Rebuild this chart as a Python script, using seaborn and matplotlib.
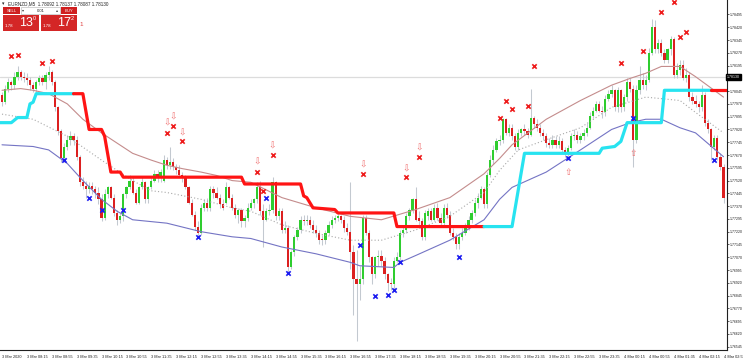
"""EURNZD M5 chart with envelope, trailing stop line and signal marks."""

import numpy as np
import pandas as pd
import matplotlib
matplotlib.use("Agg")
import matplotlib.pyplot as plt
from matplotlib.patches import Rectangle
import seaborn as sns

# ---- candles (M5, 3 Mar 2020 07:35 -> 4 Mar 2020 02:55) ----
open_ = [1.7802, 1.7798, 1.7806, 1.7810, 1.7808, 1.7813, 1.7816, 1.7813, 1.7812, 1.7811,
         1.7808, 1.7806, 1.7810, 1.7812, 1.7810, 1.7814, 1.7816, 1.7810, 1.7795, 1.7781,
         1.7765, 1.7772, 1.7776, 1.7778, 1.7776, 1.7766, 1.7751, 1.7749, 1.7747, 1.7749,
         1.7747, 1.7745, 1.7741, 1.7730, 1.7744, 1.7748, 1.7742, 1.7733, 1.7729, 1.7731,
         1.7744, 1.7748, 1.7752, 1.7745, 1.7739, 1.7748, 1.7751, 1.7741, 1.7748, 1.7752,
         1.7756, 1.7754, 1.7752, 1.7764, 1.7761, 1.7763, 1.7760, 1.7758, 1.7755, 1.7754,
         1.7748, 1.7739, 1.7732, 1.7725, 1.7721, 1.7736, 1.7739, 1.7736, 1.7747, 1.7745,
         1.7742, 1.7738, 1.7739, 1.7748, 1.7742, 1.7736, 1.7732, 1.7735, 1.7728, 1.7730,
         1.7736, 1.7739, 1.7741, 1.7748, 1.7734, 1.7729, 1.7734, 1.7735, 1.7751, 1.7731,
         1.7734, 1.7723, 1.7724, 1.7701, 1.7710, 1.7719, 1.7723, 1.7729, 1.7728, 1.7729,
         1.7726, 1.7723, 1.7721, 1.7718, 1.7717, 1.7721, 1.7726, 1.7729, 1.7730, 1.7731,
         1.7729, 1.7724, 1.7722, 1.7710, 1.7694, 1.7691, 1.7694, 1.7730, 1.7721, 1.7707,
         1.7697, 1.7707, 1.7708, 1.7705, 1.7697, 1.7692, 1.7691, 1.7705, 1.7707, 1.7721,
         1.7723, 1.7731, 1.7735, 1.7741, 1.7730, 1.7728, 1.7719, 1.7731, 1.7734, 1.7729,
         1.7736, 1.7730, 1.7727, 1.7736, 1.7732, 1.7721, 1.7719, 1.7715, 1.7719, 1.7721,
         1.7725, 1.7729, 1.7733, 1.7739, 1.7742, 1.7747, 1.7738, 1.7755, 1.7764, 1.7770,
         1.7775, 1.7776, 1.7788, 1.7780, 1.7783, 1.7778, 1.7772, 1.7780, 1.7782, 1.7781,
         1.7779, 1.7789, 1.7785, 1.7783, 1.7780, 1.7778, 1.7774, 1.7773, 1.7776, 1.7773,
         1.7775, 1.7770, 1.7769, 1.7771, 1.7778, 1.7779, 1.7776, 1.7778, 1.7780, 1.7783,
         1.7790, 1.7793, 1.7797, 1.7793, 1.7792, 1.7800, 1.7803, 1.7805, 1.7795, 1.7805,
         1.7795, 1.7801, 1.7810, 1.7806, 1.7776, 1.7805, 1.7811, 1.7808, 1.7811, 1.7827,
         1.7842, 1.7829, 1.7833, 1.7827, 1.7823, 1.7829, 1.7835, 1.7814, 1.7817, 1.7820,
         1.7812, 1.7814, 1.7801, 1.7799, 1.7797, 1.7795, 1.7802, 1.7786, 1.7782, 1.7772,
         1.7777, 1.7766, 1.7760]
high = [1.7804, 1.7808, 1.7812, 1.7811, 1.7816, 1.7819, 1.7817, 1.7816, 1.7815, 1.7813,
        1.7810, 1.7811, 1.7814, 1.7814, 1.7816, 1.7819, 1.7817, 1.7811, 1.7796, 1.7782,
        1.7774, 1.7779, 1.7781, 1.7780, 1.7778, 1.7767, 1.7754, 1.7752, 1.7751, 1.7751,
        1.7749, 1.7748, 1.7744, 1.7747, 1.7749, 1.7749, 1.7744, 1.7735, 1.7733, 1.7745,
        1.7749, 1.7755, 1.7754, 1.7747, 1.7749, 1.7754, 1.7752, 1.7749, 1.7754, 1.7758,
        1.7758, 1.7759, 1.7767, 1.7766, 1.7772, 1.7765, 1.7762, 1.7761, 1.7757, 1.7755,
        1.7749, 1.7741, 1.7734, 1.7728, 1.7738, 1.7741, 1.7742, 1.7749, 1.7749, 1.7748,
        1.7744, 1.7741, 1.7751, 1.7749, 1.7744, 1.7738, 1.7736, 1.7736, 1.7732, 1.7739,
        1.7741, 1.7742, 1.7751, 1.7752, 1.7738, 1.7736, 1.7738, 1.7754, 1.7752, 1.7736,
        1.7736, 1.7728, 1.7726, 1.7711, 1.7720, 1.7725, 1.7731, 1.7732, 1.7732, 1.7731,
        1.7729, 1.7726, 1.7723, 1.7720, 1.7723, 1.7728, 1.7731, 1.7732, 1.7733, 1.7732,
        1.7731, 1.7727, 1.7751, 1.7714, 1.7711, 1.7702, 1.7732, 1.7732, 1.7723, 1.7708,
        1.7708, 1.7711, 1.7711, 1.7707, 1.7698, 1.7695, 1.7707, 1.7710, 1.7723, 1.7726,
        1.7733, 1.7736, 1.7742, 1.7748, 1.7734, 1.7730, 1.7735, 1.7736, 1.7736, 1.7738,
        1.7739, 1.7733, 1.7738, 1.7739, 1.7734, 1.7724, 1.7721, 1.7721, 1.7724, 1.7727,
        1.7731, 1.7735, 1.7741, 1.7745, 1.7749, 1.7748, 1.7757, 1.7767, 1.7773, 1.7777,
        1.7779, 1.7789, 1.7789, 1.7785, 1.7785, 1.7780, 1.7782, 1.7783, 1.7785, 1.7783,
        1.7806, 1.7790, 1.7788, 1.7785, 1.7782, 1.7780, 1.7777, 1.7779, 1.7778, 1.7778,
        1.7777, 1.7772, 1.7773, 1.7780, 1.7782, 1.7781, 1.7780, 1.7782, 1.7786, 1.7792,
        1.7795, 1.7799, 1.7799, 1.7796, 1.7802, 1.7805, 1.7808, 1.7806, 1.7807, 1.7806,
        1.7803, 1.7812, 1.7812, 1.7808, 1.7808, 1.7819, 1.7815, 1.7814, 1.7830, 1.7847,
        1.7846, 1.7835, 1.7835, 1.7829, 1.7830, 1.7837, 1.7836, 1.7821, 1.7823, 1.7823,
        1.7818, 1.7816, 1.7804, 1.7802, 1.7799, 1.7808, 1.7804, 1.7788, 1.7783, 1.7779,
        1.7779, 1.7768, 1.7762]
low = [1.7796, 1.7797, 1.7804, 1.7805, 1.7806, 1.7811, 1.7811, 1.7810, 1.7808, 1.7805,
       1.7804, 1.7804, 1.7808, 1.7808, 1.7806, 1.7811, 1.7808, 1.7793, 1.7779, 1.7763,
       1.7763, 1.7770, 1.7773, 1.7773, 1.7764, 1.7749, 1.7747, 1.7742, 1.7745, 1.7744,
       1.7742, 1.7738, 1.7728, 1.7729, 1.7742, 1.7741, 1.7731, 1.7726, 1.7727, 1.7728,
       1.7742, 1.7747, 1.7744, 1.7738, 1.7738, 1.7747, 1.7739, 1.7739, 1.7747, 1.7751,
       1.7751, 1.7751, 1.7751, 1.7759, 1.7759, 1.7758, 1.7756, 1.7754, 1.7751, 1.7747,
       1.7738, 1.7731, 1.7723, 1.7719, 1.7720, 1.7734, 1.7734, 1.7734, 1.7742, 1.7741,
       1.7736, 1.7735, 1.7738, 1.7741, 1.7735, 1.7730, 1.7727, 1.7725, 1.7725, 1.7728,
       1.7735, 1.7736, 1.7739, 1.7732, 1.7713, 1.7728, 1.7732, 1.7733, 1.7729, 1.7729,
       1.7721, 1.7721, 1.7698, 1.7700, 1.7708, 1.7717, 1.7721, 1.7726, 1.7726, 1.7724,
       1.7721, 1.7719, 1.7715, 1.7714, 1.7715, 1.7720, 1.7724, 1.7727, 1.7728, 1.7727,
       1.7722, 1.7720, 1.7700, 1.7673, 1.7658, 1.7682, 1.7691, 1.7720, 1.7704, 1.7691,
       1.7695, 1.7702, 1.7702, 1.7694, 1.7687, 1.7688, 1.7688, 1.7704, 1.7704, 1.7719,
       1.7721, 1.7729, 1.7733, 1.7728, 1.7726, 1.7717, 1.7717, 1.7729, 1.7728, 1.7728,
       1.7729, 1.7725, 1.7725, 1.7730, 1.7720, 1.7717, 1.7712, 1.7712, 1.7717, 1.7720,
       1.7723, 1.7727, 1.7731, 1.7736, 1.7741, 1.7736, 1.7736, 1.7754, 1.7762, 1.7769,
       1.7773, 1.7774, 1.7779, 1.7778, 1.7776, 1.7770, 1.7770, 1.7778, 1.7779, 1.7777,
       1.7778, 1.7783, 1.7781, 1.7778, 1.7776, 1.7772, 1.7771, 1.7771, 1.7771, 1.7771,
       1.7768, 1.7766, 1.7764, 1.7770, 1.7776, 1.7774, 1.7774, 1.7776, 1.7778, 1.7782,
       1.7789, 1.7792, 1.7792, 1.7789, 1.7790, 1.7799, 1.7801, 1.7793, 1.7792, 1.7792,
       1.7793, 1.7799, 1.7804, 1.7760, 1.7774, 1.7803, 1.7806, 1.7805, 1.7810, 1.7826,
       1.7827, 1.7827, 1.7825, 1.7821, 1.7821, 1.7826, 1.7812, 1.7812, 1.7814, 1.7811,
       1.7810, 1.7799, 1.7797, 1.7795, 1.7792, 1.7793, 1.7784, 1.7780, 1.7764, 1.7770,
       1.7764, 1.7758, 1.7739]
close = [1.7798, 1.7806, 1.7810, 1.7808, 1.7813, 1.7816, 1.7813, 1.7812, 1.7811, 1.7808,
         1.7806, 1.7810, 1.7812, 1.7810, 1.7814, 1.7816, 1.7810, 1.7795, 1.7781, 1.7765,
         1.7772, 1.7776, 1.7778, 1.7776, 1.7766, 1.7751, 1.7749, 1.7747, 1.7749, 1.7747,
         1.7745, 1.7741, 1.7730, 1.7744, 1.7748, 1.7742, 1.7733, 1.7729, 1.7731, 1.7744,
         1.7748, 1.7752, 1.7745, 1.7739, 1.7748, 1.7751, 1.7741, 1.7748, 1.7752, 1.7756,
         1.7754, 1.7757, 1.7764, 1.7761, 1.7763, 1.7760, 1.7758, 1.7755, 1.7754, 1.7748,
         1.7739, 1.7732, 1.7725, 1.7721, 1.7736, 1.7739, 1.7736, 1.7747, 1.7745, 1.7742,
         1.7738, 1.7736, 1.7748, 1.7742, 1.7736, 1.7732, 1.7735, 1.7728, 1.7730, 1.7736,
         1.7739, 1.7741, 1.7748, 1.7734, 1.7729, 1.7734, 1.7735, 1.7751, 1.7731, 1.7734,
         1.7723, 1.7724, 1.7701, 1.7710, 1.7719, 1.7723, 1.7729, 1.7728, 1.7729, 1.7726,
         1.7723, 1.7721, 1.7717, 1.7717, 1.7721, 1.7726, 1.7729, 1.7730, 1.7731, 1.7729,
         1.7724, 1.7722, 1.7710, 1.7694, 1.7691, 1.7694, 1.7730, 1.7721, 1.7707, 1.7697,
         1.7707, 1.7708, 1.7705, 1.7697, 1.7692, 1.7691, 1.7705, 1.7707, 1.7721, 1.7723,
         1.7731, 1.7735, 1.7741, 1.7729, 1.7728, 1.7719, 1.7733, 1.7734, 1.7729, 1.7736,
         1.7730, 1.7727, 1.7736, 1.7732, 1.7721, 1.7719, 1.7715, 1.7719, 1.7721, 1.7725,
         1.7729, 1.7733, 1.7739, 1.7742, 1.7747, 1.7738, 1.7755, 1.7764, 1.7770, 1.7775,
         1.7776, 1.7788, 1.7780, 1.7783, 1.7778, 1.7772, 1.7780, 1.7782, 1.7781, 1.7779,
         1.7789, 1.7785, 1.7783, 1.7780, 1.7778, 1.7774, 1.7773, 1.7776, 1.7773, 1.7775,
         1.7770, 1.7769, 1.7771, 1.7778, 1.7779, 1.7776, 1.7778, 1.7780, 1.7783, 1.7790,
         1.7793, 1.7797, 1.7793, 1.7792, 1.7800, 1.7803, 1.7805, 1.7795, 1.7805, 1.7795,
         1.7801, 1.7810, 1.7806, 1.7776, 1.7805, 1.7811, 1.7808, 1.7811, 1.7827, 1.7842,
         1.7829, 1.7833, 1.7827, 1.7823, 1.7829, 1.7835, 1.7814, 1.7817, 1.7820, 1.7812,
         1.7814, 1.7801, 1.7799, 1.7797, 1.7795, 1.7802, 1.7786, 1.7782, 1.7772, 1.7777,
         1.7766, 1.7760, 1.7742]

# ---- envelope lines, read at bar numbers ----
upper_bars = [0, 6, 10, 15, 21, 26, 32, 37, 42, 48, 53, 58, 64, 69, 74, 80, 90, 101, 112,
              122, 133, 144, 155, 160, 164, 175, 186, 196, 202, 207, 212, 218, 223, 232]
upper_ma = [1.7805, 1.7806, 1.7805, 1.7803, 1.7797, 1.7788, 1.7780, 1.7774, 1.7768, 1.7764,
            1.7761, 1.7759, 1.7757, 1.7755, 1.7752, 1.7751, 1.7742, 1.7736, 1.7731, 1.7729,
            1.7735, 1.7742, 1.7756, 1.7765, 1.7773, 1.7788, 1.7799, 1.7808, 1.7812, 1.7815,
            1.7819, 1.7819, 1.7813, 1.7801]
mid_bars = [0, 10, 21, 32, 42, 48, 53, 64, 74, 80, 90, 101, 112, 122, 133, 144, 155, 160,
            166, 175, 186, 196, 207, 218, 223, 232]
mid_ma = [1.7791, 1.7788, 1.7778, 1.7764, 1.7752, 1.7746, 1.7745, 1.7741, 1.7736, 1.7734,
          1.7726, 1.7721, 1.7717, 1.7717, 1.7723, 1.7731, 1.7745, 1.7758, 1.7770, 1.7776,
          1.7783, 1.7795, 1.7801, 1.7799, 1.7792, 1.7780]
lower_bars = [0, 10, 15, 21, 26, 32, 37, 42, 53, 64, 74, 80, 90, 101, 112, 115, 126, 128,
              133, 144, 155, 160, 164, 175, 186, 196, 202, 207, 212, 218, 223, 232]
lower_ma = [1.7773, 1.7772, 1.7770, 1.7762, 1.7752, 1.7741, 1.7734, 1.7729, 1.7727, 1.7722,
            1.7719, 1.7718, 1.7713, 1.7709, 1.7704, 1.7702, 1.7701, 1.7704, 1.7708, 1.7717,
            1.7729, 1.7741, 1.7748, 1.7757, 1.7770, 1.7782, 1.7786, 1.7788, 1.7788, 1.7783,
            1.7780, 1.7766]

# ---- trailing stop (corner points of each leg) ----
up1_bars = [-1, 3, 5, 8, 9, 10, 11, 23]
up1_vals = [1.7786, 1.7786, 1.7789, 1.7789, 1.7797, 1.7798, 1.7803, 1.7803]
dn1_bars = [23, 26, 28, 32, 33, 35, 38, 39, 77, 78, 96, 97, 98, 100, 107, 108, 126, 127, 155]
dn1_vals = [1.7803, 1.7803, 1.7782, 1.7782, 1.7778, 1.7757, 1.7757, 1.7754, 1.7754, 1.7750,
            1.7750, 1.7743, 1.7742, 1.7736, 1.7735, 1.7733, 1.7733, 1.7725, 1.7725]
up2_bars = [155, 164, 168, 192, 193, 197, 199, 201, 212, 213, 228]
up2_vals = [1.7725, 1.7725, 1.7768, 1.7768, 1.7771, 1.7772, 1.7775, 1.7786, 1.7786, 1.7805,
            1.7805]
dn2_bars = [228, 233]
dn2_vals = [1.7805, 1.7805]

# ---- signal marks ----
sell_x_bars = [3, 5, 13, 16, 53, 55, 58, 82, 84, 87, 116, 130, 134, 160, 162, 164, 169, 171,
               199, 206, 212, 216, 218, 220]
sell_x_vals = [1.7825, 1.7826, 1.7821, 1.7822, 1.7780, 1.7784, 1.7775, 1.7757, 1.7746, 1.7767,
               1.7756, 1.7754, 1.7766, 1.7789, 1.7799, 1.7794, 1.7796, 1.7819, 1.7821, 1.7828,
               1.7851, 1.7857, 1.7836, 1.7839]
buy_x_bars = [20, 28, 32, 39, 63, 85, 92, 115, 120, 124, 126, 128, 147, 182, 203, 229]
buy_x_vals = [1.7764, 1.7742, 1.7735, 1.7735, 1.7719, 1.7742, 1.7698, 1.7714, 1.7684, 1.7685,
              1.7688, 1.7704, 1.7707, 1.7765, 1.7789, 1.7764]
dn_arrow_bars = [53, 55, 58, 82, 87, 116, 130, 134]
dn_arrow_vals = [1.7786, 1.7789, 1.7780, 1.7763, 1.7772, 1.7761, 1.7759, 1.7771]
up_arrow_bars = [182, 203]
up_arrow_vals = [1.7757, 1.7768]

bid = 1.78130
# 1.78120 sits under the bid box, so it is left out
price_ticks = [1.78495, 1.78420, 1.78345, 1.78270, 1.78195, 1.78045, 1.77970,
               1.77895, 1.77820, 1.77745, 1.77670, 1.77595, 1.77520, 1.77445, 1.77370,
               1.77295, 1.77220, 1.77145, 1.77070, 1.76995, 1.76920, 1.76845, 1.76770,
               1.76695, 1.76620, 1.76545]
time_labels = ["3 Mar 2020", "3 Mar 08:15", "3 Mar 08:55", "3 Mar 09:35", "3 Mar 10:15",
               "3 Mar 10:55", "3 Mar 11:35", "3 Mar 12:15", "3 Mar 12:55", "3 Mar 13:35",
               "3 Mar 14:15", "3 Mar 14:55", "3 Mar 15:35", "3 Mar 16:15", "3 Mar 16:55",
               "3 Mar 17:35", "3 Mar 18:15", "3 Mar 18:55", "3 Mar 19:35", "3 Mar 20:15",
               "3 Mar 20:55", "3 Mar 21:35", "3 Mar 22:15", "3 Mar 22:55", "3 Mar 23:35",
               "4 Mar 00:15", "4 Mar 00:55", "4 Mar 01:35", "4 Mar 02:15", "4 Mar 02:55"]

sns.set_style("white")
plt.rcParams['font.family'] = ['Liberation Sans', 'DejaVu Sans']

W, H = 743, 358
fig = plt.figure(figsize=(W / 100, H / 100), dpi=100)
ax = fig.add_axes([0, 1 - 350 / H, 727 / W, 350 / H])

df = pd.DataFrame({"open": open_, "high": high, "low": low, "close": close})
df["bar"] = np.arange(len(df))
rising = df["close"] >= df["open"]

# candles: wicks then bodies
ax.vlines(df["bar"], df["low"], df["high"], color="#c3c9d0", lw=0.75, zorder=2)
body = (df["close"] - df["open"]).abs().clip(lower=0.000035)
ax.bar(df["bar"], body, bottom=df[["open", "close"]].min(axis=1), width=0.72,
       color=np.where(rising, "#2fcd2f", "#dc2020"), linewidth=0, zorder=3)

# bid line
ax.axhline(bid, color="#dcdcdc", lw=0.9, zorder=1)

# envelope
sns.lineplot(x=upper_bars, y=upper_ma, ax=ax, color="#c48c8c", lw=0.8, zorder=4)
sns.lineplot(x=mid_bars, y=mid_ma, ax=ax, color="#a8a8a8", lw=0.8, ls=(0, (1, 2)), zorder=4)
sns.lineplot(x=lower_bars, y=lower_ma, ax=ax, color="#7474c4", lw=0.8, zorder=4)

# trailing stop legs
for bars, vals, col in [(up1_bars, up1_vals, "#27e3f0"), (dn1_bars, dn1_vals, "#ff1414"),
                        (up2_bars, up2_vals, "#27e3f0"), (dn2_bars, dn2_vals, "#ff1414")]:
    sns.lineplot(x=bars, y=vals, ax=ax, color=col, lw=2.3, zorder=5)

# signal marks
sns.scatterplot(x=sell_x_bars, y=sell_x_vals, ax=ax, marker="x", s=10, color="#ee1c1c",
                linewidth=1.2, zorder=6)
sns.scatterplot(x=buy_x_bars, y=buy_x_vals, ax=ax, marker="x", s=10, color="#1c1cf0",
                linewidth=1.2, zorder=6)
for b, v in zip(dn_arrow_bars, dn_arrow_vals):
    ax.text(b, v, "\u21e9", ha="center", va="center", fontsize=6.5, color="#f07070",
            family="DejaVu Sans", zorder=6)
for b, v in zip(up_arrow_bars, up_arrow_vals):
    ax.text(b, v, "\u21e7", ha="center", va="center", fontsize=6.5, color="#f07070",
            family="DejaVu Sans", zorder=6)

ax.set_xlim(-2 / 3.11, 725 / 3.11)
ax.set_ylim(1.7858 - 350 * 0.0000587, 1.7858)

for side in ["top", "left"]:
    ax.spines[side].set_visible(False)
for side in ["right", "bottom"]:
    ax.spines[side].set_color("#202020")
    ax.spines[side].set_linewidth(0.8)

ax.yaxis.tick_right()
ax.set_yticks(price_ticks)
ax.set_yticklabels([f"{p:.5f}" for p in price_ticks], fontsize=2.5)
ax.tick_params(axis="y", length=1.5, width=0.5, pad=0.8, colors="#202020")
ax.set_xticks(np.arange(0, 233, 8))
ax.set_xticklabels(time_labels, fontsize=2.8)
ax.tick_params(axis="x", length=2.5, width=0.5, pad=0.8, colors="#202020")
for lab in ax.get_xticklabels():
    lab.set_horizontalalignment("left")
ax.set_xlabel("")
ax.set_ylabel("")

ax.text(1.0, bid, "1.78130", transform=ax.get_yaxis_transform(), ha="left", va="center",
        fontsize=2.5, color="white", zorder=7,
        bbox=dict(boxstyle="square,pad=0.3", fc="black", ec="black"))


def box(x0, y0, x1, y1, fc, ec=None, lw=0):
    fig.add_artist(Rectangle((x0 / W, 1 - y1 / H), (x1 - x0) / W, (y1 - y0) / H,
                             transform=fig.transFigure, fc=fc, ec=ec or fc, lw=lw))


def label(x, y, s, **kw):
    fig.text(x / W, 1 - y / H, s, **kw)


# title
label(2, 4, "\u25be", fontsize=3.5, va="center", family="DejaVu Sans")
label(8, 4, "EURNZD,M5  1.78092 1.78137 1.78087 1.78130", fontsize=3.3, va="center")

# one click trading panel
box(3, 7, 20, 14, "#cf1f1f")
box(21, 7, 60, 14, "white", "#b0b0b0", 0.4)
box(61, 7, 77, 14, "#cf1f1f")
box(3, 15, 39, 31, "#d42626")
box(41, 15, 77, 31, "#d42626")
label(11.5, 10.5, "SELL", fontsize=3, color="white", ha="center", va="center")
label(69, 10.5, "BUY", fontsize=3, color="white", ha="center", va="center")
label(40.5, 10.5, "0.01", fontsize=3, color="#202020", ha="center", va="center")
label(23.5, 10.5, "\u25be", fontsize=3, color="#404040", ha="center", va="center",
      family="DejaVu Sans")
label(57.5, 10.5, "\u25b4", fontsize=3, color="#404040", ha="center", va="center",
      family="DejaVu Sans")
label(5, 26, "1.78", fontsize=3.2, color="white", va="center")
label(19, 23.5, "13", fontsize=9, color="white", va="center")
label(33, 18.5, "0", fontsize=4, color="white", va="center")
label(43, 26, "1.78", fontsize=3.2, color="white", va="center")
label(57, 23.5, "17", fontsize=9, color="white", va="center")
label(71, 18.5, "2", fontsize=4, color="white", va="center")
label(79, 24, "1", fontsize=4.5, color="#e04040", va="center")

fig.savefig("out.png", dpi=100)
